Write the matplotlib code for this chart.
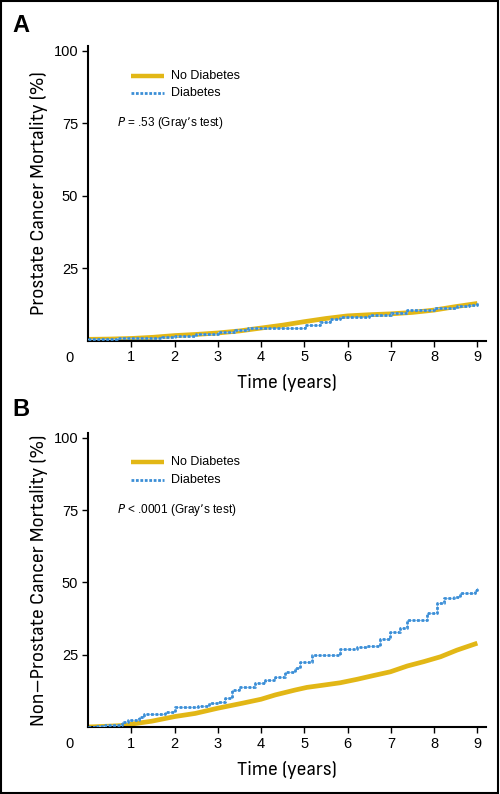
import matplotlib
matplotlib.use("Agg")
import matplotlib.pyplot as plt
from matplotlib.patches import Rectangle
from matplotlib import font_manager as fm

# ---- data ----
a_nodiab_t = [0.0, 0.5, 1.0, 1.5, 2.0, 2.5, 3.0, 3.5, 4.0, 4.5, 5.0, 5.5, 6.0, 6.5, 7.0, 7.5, 8.0, 8.5, 9.0]
a_nodiab_v = [0.4, 0.5, 0.7, 1.1, 1.7, 2.1, 2.6, 3.3, 4.3, 5.3, 6.5, 7.6, 8.5, 8.9, 9.2, 9.7, 10.5, 11.7, 12.8]
a_diab_t = [0.0, 0.66, 1.7, 2.0, 2.5, 3.0, 3.4, 3.7, 5.02, 5.37, 5.6, 5.83, 6.5, 7.0, 7.38, 8.0, 8.53, 8.8, 9.0]
a_diab_v = [0.4, 1.0, 1.3, 1.7, 2.2, 2.9, 3.6, 4.2, 5.3, 6.5, 7.3, 8.2, 8.7, 9.4, 10.7, 11.1, 11.9, 12.4, 12.8]

b_nodiab_t = [0.0, 0.5, 0.78, 1.0, 1.47, 2.0, 2.48, 3.0, 3.56, 4.0, 4.33, 4.79, 5.06, 5.45, 5.83, 6.22, 6.6, 6.99, 7.38, 7.76, 8.15, 8.53, 9.0]
b_nodiab_v = [0.0, 0.3, 0.5, 1.0, 2.0, 3.6, 4.7, 6.5, 8.2, 9.6, 11.1, 12.8, 13.7, 14.5, 15.3, 16.5, 17.8, 19.1, 21.1, 22.6, 24.3, 26.6, 29.0]
b_diab_t = [0.0, 0.2, 0.4, 0.78, 0.93, 1.17, 1.3, 1.78, 2.0, 2.55, 2.8, 3.0, 3.17, 3.33, 3.48, 3.87, 4.1, 4.33, 4.56, 4.79, 4.91,
            5.18, 5.83, 6.22, 6.45, 6.76, 6.99, 7.22, 7.38, 7.84, 8.07, 8.22, 8.45, 8.61, 8.95, 9.0]
b_diab_v = [0.0, 0.5, 0.6, 1.8, 2.4, 3.6, 4.4, 5.3, 6.8, 7.3, 8.4, 8.8, 9.9, 12.8, 14.0, 15.3, 16.3, 17.4, 19.1, 20.3, 22.6,
            24.9, 26.9, 27.6, 28.0, 30.3, 33.0, 34.1, 37.0, 39.6, 42.8, 44.5, 45.1, 46.5, 47.5, 48.2]

yticks = [25, 50, 75, 100]
xticks = [1, 2, 3, 4, 5, 6, 7, 8, 9]
series_labels = ["No Diabetes", "Diabetes"]

YELLOW = "#E2B716"
BLUE = "#3B8ED6"
plt.rcParams["font.family"] = ["Liberation Sans", "DejaVu Sans"]

# find a condensed / narrow font for axis titles if available
cond_path = None
for f in fm.fontManager.ttflist:
    nm = f.name.lower()
    st = str(f.stretch).lower()
    if f.weight in (400, "normal", "regular") and f.style == "normal":
        if ("narrow" in nm or "condensed" in nm or "condensed" in st or "condensed" in f.fname.lower()) \
                and "oblique" not in f.fname.lower() and "bold" not in f.fname.lower():
            if cond_path is None or "sans" in nm:
                cond_path = f.fname
if cond_path:
    LABEL_FP = dict(fontproperties=fm.FontProperties(fname=cond_path, size=14.5))
else:
    LABEL_FP = dict(family=["Liberation Sans"], fontsize=12.5)

W, H = 500, 794
fig = plt.figure(figsize=(W / 100, H / 100), dpi=100)
fig.patches.append(Rectangle((0.001, 0.001), 0.994, 0.998, transform=fig.transFigure,
                             fill=False, edgecolor="black", linewidth=1.5))


def fx(px):
    return px / W


def fy(py):
    return 1 - py / H


def panel(top_px, bottom_px, letter, ylabel, ptext, nd_t, nd_v, d_t, d_v, letter_y):
    ax = fig.add_axes([fx(88), fy(bottom_px), fx(486) - fx(88), fy(top_px) - fy(bottom_px)])
    ax.plot(nd_t, nd_v, color=YELLOW, lw=3.4, solid_capstyle="butt", zorder=2)
    ax.step(d_t, d_v, where="post", color="#8EC3EE", lw=0.8, zorder=3)
    ax.step(d_t, d_v, where="post", color=BLUE, lw=2.0, linestyle=(0, (1.0, 0.6)), zorder=4)
    ax.set_xlim(0, 9.2)
    ax.set_ylim(0, 101.7)
    for s in ["top", "right"]:
        ax.spines[s].set_visible(False)
    for s in ["left", "bottom"]:
        ax.spines[s].set_linewidth(1.5)
    ax.set_yticks(yticks)
    ax.set_xticks(xticks)
    ax.tick_params(direction="out", length=4, width=1, labelsize=10.5, pad=3)
    ax.set_xlabel("Time (years)", labelpad=7, **LABEL_FP)
    ax.set_ylabel(ylabel, labelpad=4, **LABEL_FP)
    ax.text(-0.035, -0.035, "0", transform=ax.transAxes, ha="right", va="top", fontsize=10.5)
    # legend
    ax.plot([1.0, 1.75], [91.5, 91.5], color=YELLOW, lw=3.2, solid_capstyle="butt")
    ax.plot([1.0, 1.75], [85.3, 85.3], color=BLUE, lw=2.0, linestyle=(0, (1.0, 0.6)))
    ax.text(1.92, 91.5, series_labels[0], fontsize=9, va="center")
    ax.text(1.92, 85.3, series_labels[1], fontsize=9, va="center")
    ax.text(0.68, 75, ptext, fontsize=8.5, va="center")
    fig.text(fx(12), fy(letter_y), letter, fontsize=17, fontweight="bold", va="center")
    return ax


panel(46, 340.5, "A", "Prostate Cancer Mortality (%)", r"$\it{P}$ = .53 (Gray’s test)",
      a_nodiab_t, a_nodiab_v, a_diab_t, a_diab_v, 25)
panel(433, 727, "B", "Non–Prostate Cancer Mortality (%)", r"$\it{P}$ < .0001 (Gray’s test)",
      b_nodiab_t, b_nodiab_v, b_diab_t, b_diab_v, 409)

fig.savefig("out.png", dpi=100)
